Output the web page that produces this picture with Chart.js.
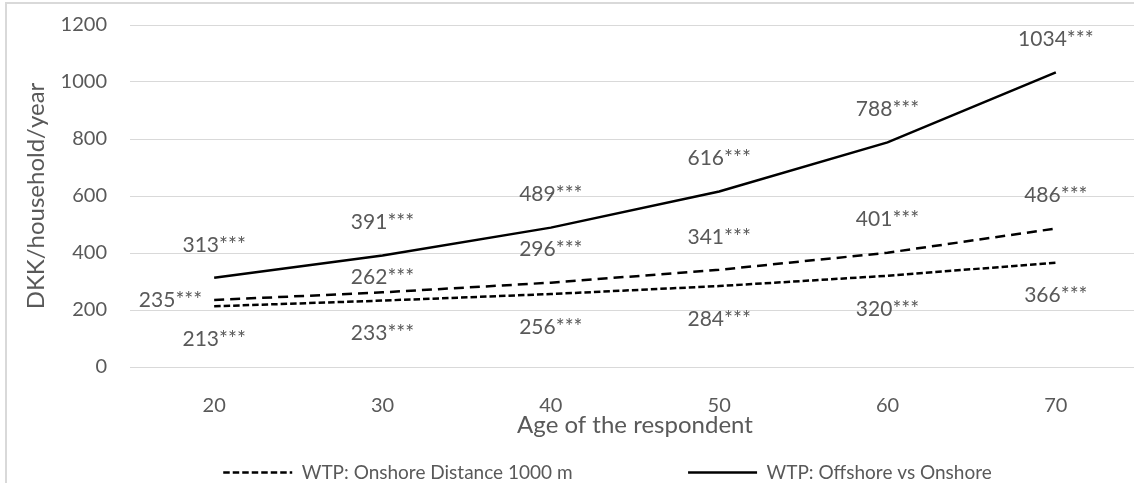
<!DOCTYPE html>
<html>
<head>
<meta charset="utf-8">
<script src="https://cdn.jsdelivr.net/npm/chart.js@4.4.1/dist/chart.umd.min.js"></script>
<style>
    html, body { margin: 0; padding: 0; background: #fff; overflow: hidden; width: 1134px; height: 483px; }
    .frame { position: absolute; left: 5px; top: 2px; width: 1300px; height: 600px; border: 2px solid #d9d9d9; }
    #wtp-chart { position: absolute; left: 0; top: 0; }
</style>
</head>
<body>
<div class="frame"></div>
<canvas id="wtp-chart" width="1215" height="492"></canvas>
<script>
const ages = ['20', '30', '40', '50', '60', '70'];
const wtpDistance1000 = [213, 233, 256, 284, 320, 366];
const wtpOnshoreUnlabelled = [235, 262, 296, 341, 401, 486];
const wtpOffshore = [313, 391, 489, 616, 788, 1034];
const yTickValues = [0, 200, 400, 600, 800, 1000, 1200];
const significance = '***';

const TEXT = '#595959';
const GRID = '#d9d9d9';
const FONT = 'Lato';

// value labels next to each point, placed above/below/left of the line
const pointLabels = {
    id: 'pointLabels',
    afterDatasetsDraw(chart) {
        const ctx = chart.ctx;
        ctx.save();
        ctx.font = `21px ${FONT}`;
        ctx.fillStyle = TEXT;
        ctx.textBaseline = 'middle';
        chart.data.datasets.forEach((ds, di) => {
            const meta = chart.getDatasetMeta(di);
            meta.data.forEach((pt, i) => {
                const place = (ds.labelAt && ds.labelAt[i]) || ds.labelPlace;
                const text = ds.data[i] + significance;
                let x = pt.x, y = pt.y;
                ctx.textAlign = 'center';
                if (place === 'above') y -= 33;
                else if (place === 'below') y += 33;
                else if (place === 'near') y -= 15;
                else if (place === 'left') { x -= 12; ctx.textAlign = 'right'; }
                ctx.fillText(text, x, y);
            });
        });
        ctx.restore();
    }
};

Chart.defaults.font.family = FONT;
Chart.defaults.color = TEXT;

new Chart(document.getElementById('wtp-chart'), {
    type: 'line',
    data: {
        labels: ages,
        datasets: [
            {
                label: 'WTP: Onshore Distance 1000 m',
                data: wtpDistance1000,
                borderColor: '#000',
                borderWidth: 2.5,
                borderDash: [6.5, 3],
                labelPlace: 'below'
            },
            {
                label: '',
                data: wtpOnshoreUnlabelled,
                borderColor: '#000',
                borderWidth: 2.5,
                borderDash: [10, 6],
                labelPlace: 'above',
                labelAt: { 0: 'left', 1: 'near' }
            },
            {
                label: 'WTP: Offshore vs Onshore',
                data: wtpOffshore,
                borderColor: '#000',
                borderWidth: 2.5,
                labelPlace: 'above'
            }
        ]
    },
    options: {
        responsive: false,
        animation: false,
        layout: { padding: { top: 25 } },
        elements: {
            point: { radius: 0, hoverRadius: 0 },
            line: { tension: 0, fill: false }
        },
        plugins: {
            tooltip: { enabled: false },
            legend: {
                position: 'bottom',
                labels: {
                    usePointStyle: true,
                    pointStyle: 'line',
                    pointStyleWidth: 69,
                    padding: 18.5,
                    color: TEXT,
                    font: { size: 19, family: FONT },
                    // line samples take the dataset dash; the unlabelled series
                    // keeps an empty slot between the two entries
                    generateLabels(chart) {
                        const items = Chart.defaults.plugins.legend.labels.generateLabels(chart);
                        items.forEach(item => {
                            const ds = chart.data.datasets[item.datasetIndex];
                            item.lineDash = ds.borderDash || [];
                            item.lineWidth = ds.borderWidth;
                            item.strokeStyle = ds.borderColor;
                            if (item.datasetIndex === 1) {
                                item.text = '';
                                item.strokeStyle = 'rgba(0,0,0,0)';
                                item.lineWidth = 0;
                            }
                        });
                        return items;
                    }
                }
            }
        },
        scales: {
            x: {
                offset: true,
                grid: { display: false },
                border: { display: false },
                ticks: { padding: 19, font: { size: 20 }, color: TEXT },
                title: {
                    display: true,
                    text: 'Age of the respondent',
                    font: { size: 24 },
                    color: TEXT,
                    padding: { top: 0, bottom: 5 }
                },
                afterFit(scale) { scale.height = 77.5; }
            },
            y: {
                min: yTickValues[0],
                max: yTickValues[yTickValues.length - 1],
                // invisible tick marks keep the labels clear of the plot
                grid: { color: GRID, lineWidth: 1, drawTicks: true, tickLength: 23, tickColor: 'rgba(0,0,0,0)' },
                border: { display: false },
                ticks: {
                    padding: 0,
                    font: { size: 20 },
                    color: TEXT,
                    callback: v => String(v)
                },
                afterBuildTicks(scale) { scale.ticks = yTickValues.map(v => ({ value: v })); },
                title: {
                    display: true,
                    text: 'DKK/household/year',
                    font: { size: 24 },
                    color: TEXT,
                    padding: { top: 21.6, bottom: 0 }
                },
                afterFit(scale) { scale.width = 130; }
            },
            // empty margin on the right of the plot
            yRight: {
                position: 'right',
                grid: { display: false },
                border: { display: false },
                ticks: { display: false },
                afterFit(scale) { scale.width = 75; }
            }
        }
    },
    plugins: [pointLabels]
});
</script>
</body>
</html>
